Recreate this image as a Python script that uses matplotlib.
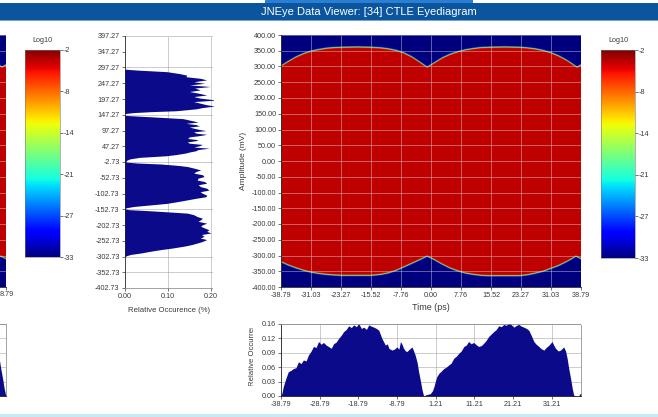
import numpy as np
import matplotlib
matplotlib.use('Agg')
import matplotlib.pyplot as plt
from matplotlib.patches import Rectangle
from matplotlib.transforms import Bbox

W, H = 658, 417

# log10 colour scale of the eye density
log_min, log_max = -33.0, -2.0
cbar_ticks = [-2.0, -8.2, -14.4, -20.6, -26.8, -33.0]
cbar_labels = ['-2', '-8', '-14', '-21', '-27', '-33']
eye_inner_level = -3.8

# eye contour (ps, mV)
eye_t_up = [-38.79, -37, -35, -33, -31, -29, -27, -25, -23, -19, -15.5, -13, -11, -9, -7, -5, -3, -1,
            1, 3, 5, 7, 9, 11, 13, 15, 19, 23, 25, 27, 29, 31, 33, 35, 36.5, 37.8, 38.79]
eye_upper = [301, 315, 329, 340, 348, 353, 357, 359, 360, 361, 360, 358, 355, 350, 342, 330, 314, 297,
             312, 327, 338, 346, 352, 356, 359, 360, 361, 360, 358, 355, 350, 343, 333, 320, 308, 297, 304]
eye_t_lo = [-38.79, -37, -35, -33, -31, -29, -27, -25, -23, -15.5, -13, -11, -9, -7, -5, -3, -1,
            1, 3, 5, 7, 9, 11, 13, 15, 23, 25, 27, 29, 31, 33, 35, 36.5, 37.5, 38.79]
eye_lower = [-322, -332, -341, -349, -355, -359, -362, -364, -365, -365, -362, -357, -349, -338, -327, -316, -304,
             -316, -330, -342, -351, -358, -362, -365, -366, -366, -363, -358, -352, -343, -334, -322, -312, -304, -312]

eye_xticks = [-38.79, -31.03, -23.27, -15.52, -7.76, 0.00, 7.76, 15.52, 23.27, 31.03, 38.79]
eye_yticks = [400, 350, 300, 250, 200, 150, 100, 50, 0, -50, -100, -150, -200, -250, -300, -350, -400]

# amplitude histogram (mV, %)
amp_mv = [397.27, 292, 289, 284, 278, 273, 268, 263, 258, 252, 247, 242, 237, 232, 226, 221, 216, 210, 205,
          200, 194, 189, 184, 179, 175, 170, 166, 160, 157, 154, 151, 147, 145, 141, 135, 128, 124, 120,
          116, 112, 108, 104, 100, 97, 93, 89, 85, 81, 77, 72, 68, 65, 61, 57, 53, 49, 45, 41, 37, 33, 29,
          26, 21, 17, 12, 7, 2, -3, -6, -9, -13, -17, -22, -28, -33, -38, -43, -49, -54, -60, -65, -70,
          -75, -81, -86, -92, -97, -102, -108, -113, -118, -123, -128, -134, -139, -144, -148, -151, -154,
          -157, -161, -165, -170, -176, -181, -186, -191, -197, -202, -207, -212, -218, -223, -228, -233,
          -239, -244, -249, -255, -260, -265, -270, -276, -281, -286, -292, -296, -300, -304, -402.73]
amp_occ = [0, 0, 0.03, 0.098, 0.127, 0.144, 0.142, 0.175, 0.19, 0.16, 0.185, 0.15, 0.198, 0.162, 0.175,
           0.15, 0.17, 0.19, 0.16, 0.175, 0.213, 0.16, 0.175, 0.19, 0.208, 0.18, 0.165, 0.12, 0.06, 0.02,
           0.0, 0.0, 0.004, 0.058, 0.135, 0.158, 0.17, 0.142, 0.165, 0.173, 0.15, 0.162, 0.175, 0.188,
           0.16, 0.165, 0.19, 0.173, 0.15, 0.146, 0.17, 0.165, 0.145, 0.15, 0.18, 0.173, 0.16, 0.196,
           0.17, 0.165, 0.15, 0.142, 0.12, 0.096, 0.035, 0.012, 0.004, 0.004, 0.03, 0.083, 0.12, 0.145,
           0.16, 0.176, 0.165, 0.16, 0.18, 0.184, 0.17, 0.168, 0.185, 0.19, 0.17, 0.176, 0.19, 0.195,
           0.175, 0.18, 0.19, 0.188, 0.165, 0.145, 0.125, 0.098, 0.06, 0.021, 0.004, 0.0, 0.01, 0.052,
           0.1, 0.145, 0.16, 0.168, 0.18, 0.176, 0.17, 0.19, 0.18, 0.176, 0.185, 0.195, 0.19, 0.2, 0.178,
           0.184, 0.175, 0.19, 0.18, 0.168, 0.155, 0.137, 0.11, 0.083, 0.06, 0.036, 0.015, 0.005, 0, 0]
amp_ticks = [397.27, 347.27, 297.27, 247.27, 197.27, 147.27, 97.27, 47.27, -2.73, -52.73, -102.73,
             -152.73, -202.73, -252.73, -302.73, -352.73, -402.73]
amp_grid = [397.27, 297.27, 147.27, -2.73, -152.73, -302.73, -352.73]
occ_ticks = [0.0, 0.10, 0.20]

# crossing-time histogram (ps, %)
time_ps = [-38.79, -38.5, -38.2, -37.5, -36.9, -36.2, -35.6, -34.9, -34.3, -33.6, -33.0, -32.3, -31.7,
           -31.0, -30.4, -29.7, -29.1, -28.4, -27.8, -27.1, -26.5, -25.8, -25.2, -24.5, -23.9, -23.2,
           -22.6, -21.9, -21.3, -20.6, -20.0, -19.3, -18.7, -18.0, -17.4, -16.7, -16.1, -15.4, -14.8,
           -14.1, -13.5, -12.7, -11.8, -11.3, -10.9, -10.1, -9.5, -8.8, -8.3, -7.9, -7.5, -7.1, -6.6,
           -6.2, -5.6, -4.9, -4.5, -4.1, -3.6, -3.2, -2.7, -2.3, -1.9, -1.2, -0.2, 0.4, 0.8, 1.1, 1.5,
           2.0, 2.6, 3.3, 3.9, 4.6, 5.2, 5.9, 6.5, 7.2, 7.8, 8.5, 9.1, 9.7, 10.4, 11.0, 11.7, 12.3, 13.0,
           13.6, 14.3, 14.9, 15.6, 16.2, 16.9, 17.5, 18.2, 18.8, 19.5, 20.1, 20.8, 21.4, 22.1, 22.7, 23.4,
           24.0, 24.7, 25.3, 25.9, 26.6, 27.2, 27.9, 28.5, 29.2, 29.8, 30.5, 31.3, 31.8, 32.2, 32.9, 33.5,
           34.3, 34.8, 35.2, 35.6, 36.1, 36.5, 36.9, 37.5, 38.2, 38.5, 38.79]
time_occ = [0, 0.008, 0.021, 0.04, 0.054, 0.057, 0.061, 0.063, 0.076, 0.072, 0.08, 0.078, 0.091, 0.1,
            0.11, 0.108, 0.121, 0.115, 0.119, 0.113, 0.11, 0.106, 0.116, 0.12, 0.128, 0.135, 0.143,
            0.148, 0.156, 0.152, 0.158, 0.154, 0.161, 0.15, 0.153, 0.148, 0.158, 0.155, 0.153, 0.15,
            0.146, 0.128, 0.113, 0.116, 0.106, 0.102, 0.104, 0.109, 0.104, 0.121, 0.115, 0.106, 0.1,
            0.099, 0.104, 0.109, 0.1, 0.091, 0.075, 0.054, 0.032, 0.013, 0, 0.003, 0.005, 0.012, 0.022,
            0.032, 0.043, 0.05, 0.055, 0.061, 0.064, 0.069, 0.073, 0.084, 0.088, 0.095, 0.1, 0.11, 0.113,
            0.121, 0.116, 0.119, 0.114, 0.11, 0.112, 0.117, 0.124, 0.132, 0.138, 0.143, 0.148, 0.156,
            0.154, 0.159, 0.157, 0.164, 0.158, 0.153, 0.157, 0.159, 0.155, 0.153, 0.15, 0.146, 0.135,
            0.121, 0.115, 0.11, 0.105, 0.102, 0.108, 0.113, 0.121, 0.112, 0.106, 0.1, 0.102, 0.109, 0.1,
            0.084, 0.062, 0.039, 0.018, 0.002, 0, 0, 0.005, 0.006]
time_ticks = [-38.79, -28.79, -18.79, -8.79, 1.21, 11.21, 21.21, 31.21]
time_occ_ticks = [0.0, 0.032, 0.064, 0.096, 0.128, 0.16]
time_occ_labels = ['0.00', '0.03', '0.06', '0.09', '0.12', '0.16']

NAVY = '#0a0a8a'
TXT = '#3a3a3a'
FS = 5.2

plt.rcParams['font.family'] = ['Liberation Sans', 'DejaVu Sans']


def box(x0, y0, x1, y1):
    # pixel rectangle (top-left origin) -> figure fraction
    return [x0 / W, 1 - y1 / H, (x1 - x0) / W, (y1 - y0) / H]


def style(ax):
    for side in ('top', 'right'):
        ax.spines[side].set_visible(False)
    for side in ('left', 'bottom'):
        ax.spines[side].set_linewidth(0.6)
        ax.spines[side].set_color('#222222')
    ax.tick_params(length=2, width=0.5, pad=1.5, labelsize=FS, colors=TXT)


fig = plt.figure(figsize=(W / 100, H / 100), dpi=100)
fig.patch.set_facecolor('white')

# window chrome
fig.add_artist(Rectangle((0, 1 - 20 / H), 1, 17 / H, transform=fig.transFigure, color='#0b559e', lw=0))
fig.add_artist(Rectangle((0, 1 - 21 / H), 1, 1 / H, transform=fig.transFigure, color='#6fa3d6', lw=0))
fig.add_artist(Rectangle((265 / W, 1 - 3 / H), 208 / W, 3 / H, transform=fig.transFigure,
                         color='#2a7fd2', lw=0))
fig.add_artist(Rectangle((0, 0), 1, 3 / H, transform=fig.transFigure, color='#c4ebf6', lw=0))
fig.text(369 / W, 1 - 12 / H, 'JNEye Data Viewer: [34] CTLE Eyediagram', color='white',
         fontsize=8, ha='center', va='center')

# eye density image
t_grid = np.linspace(eye_xticks[0], eye_xticks[-1], 700)
v_grid = np.linspace(-400, 400, 900)
up = np.interp(t_grid, eye_t_up, eye_upper)[None, :]
lo = np.interp(t_grid, eye_t_lo, eye_lower)[None, :]
V = v_grid[:, None]
dist = np.minimum(up - V, V - lo)
frac = np.clip((dist + 2) / 6, 0, 1)
Z = log_min + (eye_inner_level - log_min) * frac


def eye_panel(rect):
    ax = fig.add_axes(box(*rect))
    ax.imshow(Z, origin='lower', extent=[t_grid[0], t_grid[-1], -400, 400], cmap='jet',
              vmin=log_min, vmax=log_max, aspect='auto', interpolation='bilinear')
    ax.set_xlim(t_grid[0], t_grid[-1])
    ax.set_ylim(-400, 400)
    ax.set_xticks(eye_xticks, [f'{v:.2f}' for v in eye_xticks])
    ax.set_yticks(eye_yticks, [f'{v:.2f}' for v in eye_yticks])
    ax.grid(True, color='#dedede', linestyle=(0, (1.2, 1.2)), linewidth=0.6)
    style(ax)
    return ax


eye = eye_panel((281, 35, 581, 287))
eye.set_xlabel('Time (ps)', fontsize=6.5, color=TXT, labelpad=3)
eye.set_ylabel('Amplitude (mV)', fontsize=6, color=TXT, labelpad=3)

# neighbouring channel, mostly off screen
eye_prev = eye_panel((-294, 35, 6, 287))
eye_prev.set_xticks([38.79], [''])
eye_prev.set_yticklabels([])
fig.text(0, 1 - 295 / H, '8.79', fontsize=FS, color=TXT, ha='left', va='center')


def colorbar(rect, label_x):
    cax = fig.add_axes(box(*rect))
    cax.imshow(np.linspace(log_max, log_min, 256)[:, None], cmap='jet', vmin=log_min, vmax=log_max,
               aspect='auto', extent=[0, 1, log_min, log_max])
    cax.set_xticks([])
    cax.yaxis.tick_right()
    cax.set_yticks(cbar_ticks, cbar_labels)
    cax.tick_params(axis='y', length=2, width=0.5, pad=1, labelsize=FS, colors=TXT)
    for s in cax.spines.values():
        s.set_linewidth(0.4)
        s.set_color('#777777')
    fig.text(label_x / W, 1 - 41 / H, 'Log10', fontsize=FS, color=TXT, ha='center', va='center')


colorbar((25, 50, 60, 257), 42)
colorbar((601, 50, 635, 258), 618)

# amplitude histogram
amp = fig.add_axes(box(124.5, 36, 213, 288))
amp.fill_betweenx(amp_mv, 0, amp_occ, color=NAVY, lw=0)
amp.set_ylim(amp_ticks[-1], amp_ticks[0])
amp.set_xlim(0, 0.2045)
amp.set_yticks(amp_ticks, [f'{v:.2f}' for v in amp_ticks])
amp.set_xticks(occ_ticks, [f'{v:.2f}' for v in occ_ticks])
for y in amp_grid:
    amp.axhline(y, color='#888888', linestyle=(0, (1.2, 1.2)), linewidth=0.6, zorder=0)
for x in occ_ticks[1:]:
    amp.axvline(x, color='#888888', linestyle=(0, (1.2, 1.2)), linewidth=0.6, zorder=0)
style(amp)
amp.spines['bottom'].set_linestyle((0, (1.2, 1.2)))
amp.spines['bottom'].set_color('#888888')
amp.set_xlabel('Relative Occurence (%)', fontsize=5.6, color=TXT, labelpad=5)


def time_panel(rect, xlim):
    ax = fig.add_axes(box(*rect))
    ax.fill_between(time_ps, 0, time_occ, color=NAVY, lw=0, zorder=2)
    ax.set_xlim(*xlim)
    ax.set_ylim(0, 0.16)
    ax.set_xticks(time_ticks, [f'{v:.2f}' for v in time_ticks])
    ax.set_yticks(time_occ_ticks, time_occ_labels)
    ax.grid(True, color='#888888', linestyle=(0, (1.2, 1.2)), linewidth=0.6, zorder=0)
    ax.set_axisbelow(True)
    style(ax)
    for side in ('top', 'right'):
        ax.spines[side].set_visible(True)
        ax.spines[side].set_linestyle((0, (1.2, 1.2)))
        ax.spines[side].set_linewidth(0.6)
        ax.spines[side].set_color('#888888')
    return ax


hist = time_panel((281, 324, 581, 396), (time_ticks[0], 38.79))
hist_prev = time_panel((-294, 324, 6, 396), (-42.0, 37.0))
hist_prev.set_xticklabels([])
hist_prev.set_yticklabels([])

# y label clipped to the panel height
lab = fig.text(252 / W, 1 - 386 / H, 'Relative Occurrence (%)', rotation=90, rotation_mode='anchor',
               ha='left', va='center', fontsize=5.6, color=TXT, clip_on=True)
lab.set_clip_box(Bbox.from_extents(240, H - 386, 262, H - 328))

fig.savefig('out.png', dpi=100, facecolor='white')
